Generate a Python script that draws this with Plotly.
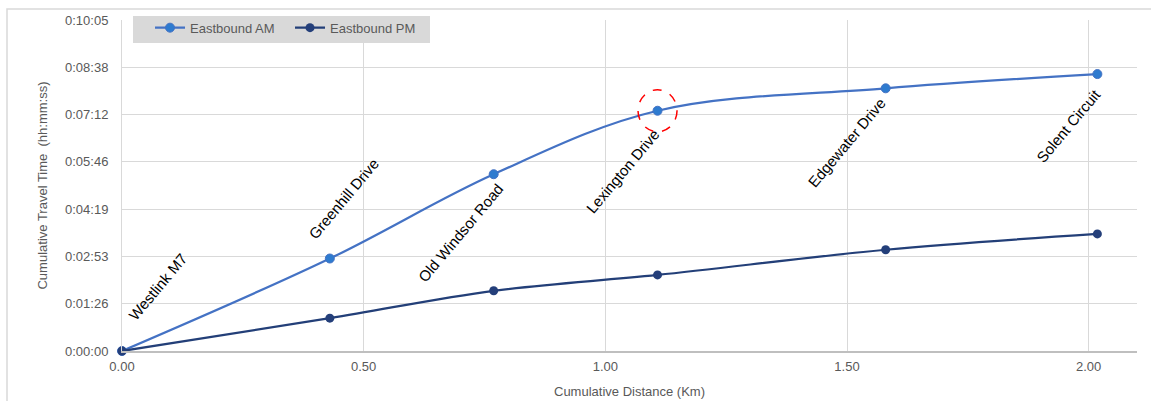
import plotly.graph_objects as go

# ---- data ----
stops = ["Westlink M7", "Greenhill Drive", "Old Windsor Road", "Lexington Drive", "Edgewater Drive", "Solent Circuit"]
distance_km = [0.0, 0.43, 0.769, 1.108, 1.58, 2.018]
am_seconds = [0, 169, 323, 439, 480, 506]
pm_seconds = [0, 60, 110, 139, 185, 214]
y_tick_seconds = [0, 86.4, 172.8, 259.2, 345.6, 432.0, 518.4, 604.8]
y_tick_labels = ["0:00:00", "0:01:26", "0:02:53", "0:04:19", "0:05:46", "0:07:12", "0:08:38", "0:10:05"]

# ---- style ----
FONT = "Liberation Sans, Arial, sans-serif"
GRAY = "#595959"
GRID = "#d9d9d9"
label_shifts = [(35, 64), (14, 60), (-33, -58), (-35, -61), (-39, -54), (-29, -51)]
highlight_index = 3

fig = go.Figure()
fig.add_trace(go.Scatter(
    x=distance_km, y=am_seconds, name="Eastbound AM", mode="lines+markers",
    line=dict(color="#4472c4", width=2.25, shape="spline", smoothing=1.0),
    marker=dict(color="#2e7bcf", size=9, line=dict(color="#4472c4", width=1)),
    cliponaxis=False,
))
fig.add_trace(go.Scatter(
    x=distance_km, y=pm_seconds, name="Eastbound PM", mode="lines+markers",
    line=dict(color="#233f78", width=2.25, shape="spline", smoothing=1.0),
    marker=dict(color="#243f7a", size=9),
    cliponaxis=False,
))

for name, xv, yv, (dx, dy) in zip(stops, distance_km, am_seconds, label_shifts):
    fig.add_annotation(x=xv, y=yv, xref="x", yref="y", text=name, showarrow=False,
                       textangle=-50, xshift=dx, yshift=dy,
                       font=dict(family=FONT, size=15, color="#000000"))

# dashed red highlight circle
fig.add_shape(type="circle", xref="x", yref="y", xsizemode="pixel", ysizemode="pixel",
              xanchor=distance_km[highlight_index], yanchor=am_seconds[highlight_index],
              x0=-19.5, x1=19.5, y0=-21, y1=21,
              line=dict(color="#ff0000", width=1.5, dash="dash"))

# outer chart border
fig.add_shape(type="rect", xref="paper", yref="paper",
              x0=-115 / 1015, x1=1.2, y0=-0.3, y1=1 + 11 / 331,
              line=dict(color=GRID, width=1.5), fillcolor="rgba(0,0,0,0)", layer="below")

# legend background box
fig.add_shape(type="rect", xref="paper", yref="paper",
              x0=11 / 1015, x1=308 / 1015, y0=308 / 331, y1=335 / 331,
              line=dict(width=0), fillcolor=GRID, layer="above")

fig.update_layout(
    width=1151, height=401,
    margin=dict(l=122, r=14, t=20, b=50),
    paper_bgcolor="white", plot_bgcolor="white",
    font=dict(family=FONT, size=13, color=GRAY),
    showlegend=True,
    legend=dict(orientation="h", x=0.0276, y=1.022, xanchor="left", yanchor="top",
                bgcolor="rgba(0,0,0,0)", font=dict(family=FONT, size=13, color=GRAY),
                entrywidth=95, tracegroupgap=0, borderwidth=0),
    xaxis=dict(range=[0, 2.1], dtick=0.5, tick0=0, tickformat=".2f",
               showgrid=True, gridcolor=GRID, gridwidth=1,
               showline=True, linecolor="#bfbfbf", linewidth=1.5,
               zeroline=False, ticks="", ticklen=0, ticklabelstandoff=3,
               automargin=False,
               tickfont=dict(family=FONT, size=13, color=GRAY),
               title=dict(text="Cumulative Distance (Km)", standoff=14,
                          font=dict(family=FONT, size=13, color=GRAY))),
    yaxis=dict(range=[0, 604.8], tickvals=y_tick_seconds, ticktext=y_tick_labels,
               showgrid=True, gridcolor=GRID, gridwidth=1,
               showline=True, linecolor=GRID, linewidth=1,
               zeroline=False, ticks="", ticklen=0, ticklabelstandoff=10,
               automargin=False,
               tickfont=dict(family=FONT, size=13, color=GRAY),
               title=dict(text="Cumulative Travel Time  (hh:mm:ss)", standoff=14,
                          font=dict(family=FONT, size=13, color=GRAY))),
)

fig.write_html("out.html", config={"displayModeBar": False},
               post_script="document.body.style.margin='0';")
